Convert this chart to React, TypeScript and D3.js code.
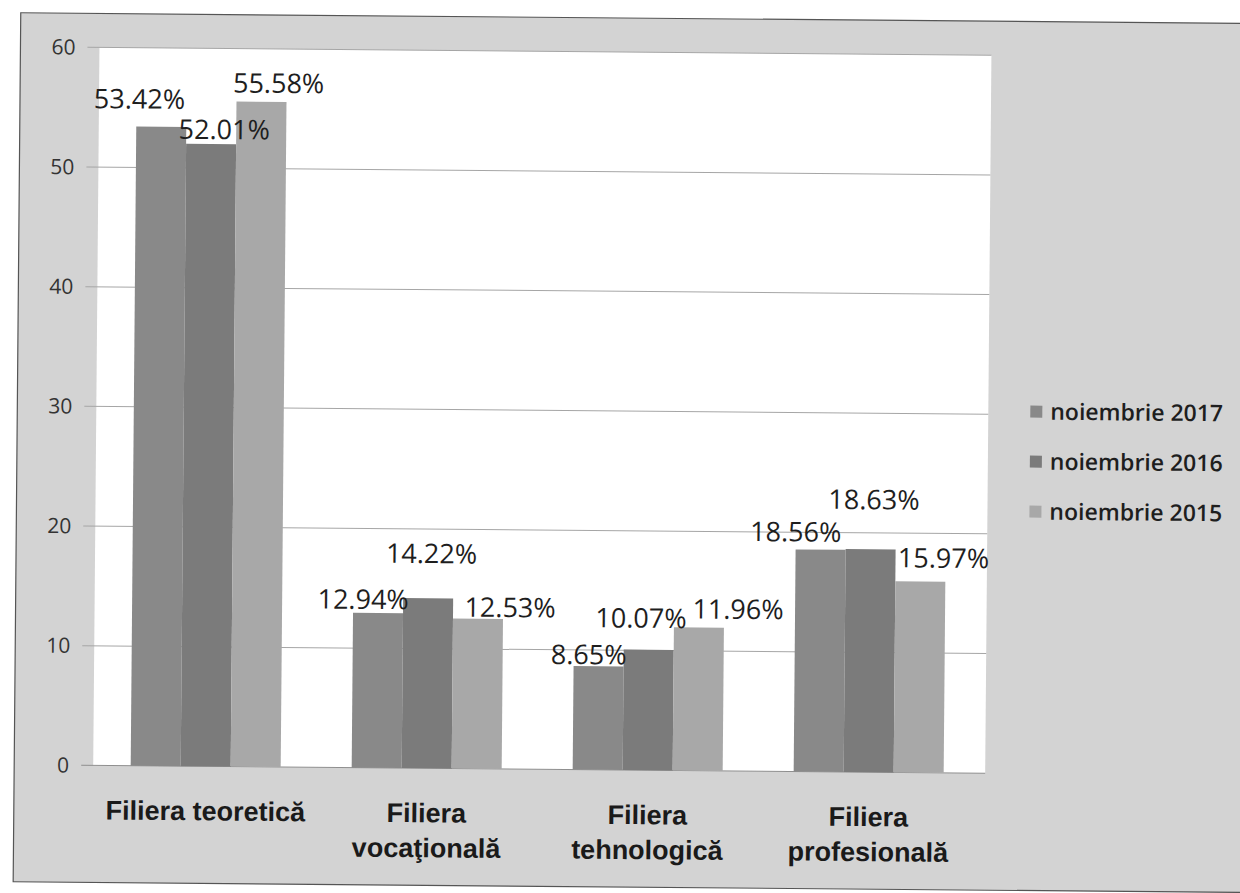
import React from 'react'
import * as d3 from 'd3'

// values
const categories = [
    ['Filiera teoretică'],
    ['Filiera', 'vocaţională'],
    ['Filiera', 'tehnologică'],
    ['Filiera', 'profesională'],
]
const seriesNames = ['noiembrie 2017', 'noiembrie 2016', 'noiembrie 2015']
const values2017 = [53.42, 12.94, 8.65, 18.56]
const values2016 = [52.01, 14.22, 10.07, 18.63]
const values2015 = [55.58, 12.53, 11.96, 15.97]
const yTicks = [0, 10, 20, 30, 40, 50, 60]

// the labels were dragged around by hand in the original: [dx, dy] from bar centre / top
const labelShift = [
    [[-22, -18], [13, -5], [17, -9]],
    [[-15, -4], [3, -35], [32, -2]],
    [[-10, -2], [-8, -22], [39, -9]],
    [[-25, -8], [3, -40], [23, -14]],
]

const colors = ['#898989', '#7b7b7b', '#a8a8a8']

const width = 1240
const height = 893
const plot = { left: 96, right: 988, top: 52, bottom: 770 }

export default function App() {
    const series = [values2017, values2016, values2015]

    const y = d3.scaleLinear().domain([0, 60]).range([plot.bottom, plot.top])
    const x0 = d3.scaleBand<number>()
        .domain(d3.range(categories.length))
        .range([98, 982])
        .padding(0)
    const groupW = 150
    const x1 = d3.scaleBand<number>()
        .domain(d3.range(series.length))
        .range([-groupW / 2, groupW / 2])

    const cx = (i: number) => (x0(i) as number) + x0.bandwidth() / 2

    return (
        <svg width={width} height={height}
            style={{ position: 'absolute', left: 0, top: 0, background: '#fff' }}>
            {/* scan is a little crooked */}
            <g transform="rotate(0.5 620 446)">
                <rect x={17} y={18} width={1240} height={869} fill="#d3d3d3" stroke="#555" strokeWidth={1.2} />
                <rect x={plot.left} y={plot.top} width={plot.right - plot.left} height={plot.bottom - plot.top} fill="#fff" />

                {yTicks.map(t => (
                    <g key={t}>
                        <line x1={84} x2={plot.right} y1={y(t)} y2={y(t)}
                            stroke={t === 0 ? '#8f8f8f' : '#a6a6a6'} strokeWidth={1} />
                        <text x={72} y={y(t)} dy="0.35em" textAnchor="end"
                            fontFamily="'Open Sans', sans-serif" fontSize={21} fill="#333">{t}</text>
                    </g>
                ))}

                {categories.map((c, i) => (
                    <g key={i}>
                        {series.map((vals, s) => {
                            const bx = cx(i) + (x1(s) as number)
                            const bw = x1.bandwidth()
                            return (
                                <rect key={s} x={bx} y={y(vals[i])} width={bw}
                                    height={y(0) - y(vals[i])} fill={colors[s]} />
                            )
                        })}
                        {series.map((vals, s) => {
                            const bx = cx(i) + (x1(s) as number) + x1.bandwidth() / 2
                            const [dx, dy] = labelShift[i][s]
                            return (
                                <text key={'l' + s} x={bx + dx} y={y(vals[i]) + dy} textAnchor="middle"
                                    fontFamily="'Open Sans', sans-serif" fontSize={27} fill="#1e1e1e">
                                    {vals[i].toFixed(2)}%
                                </text>
                            )
                        })}
                        {c.map((line, k) => (
                            <text key={'c' + k} x={cx(i)} y={824 + k * 35} textAnchor="middle"
                                fontFamily="'Liberation Sans', Arial, sans-serif" fontWeight="bold"
                                fontSize={27} fill="#1a1a1a">{line}</text>
                        ))}
                    </g>
                ))}

                {seriesNames.map((name, s) => {
                    const ly = 408 + s * 50
                    return (
                        <g key={name}>
                            <rect x={1030} y={ly - 6} width={12} height={12} fill={colors[s]} />
                            <text x={1050} y={ly} dy="0.35em"
                                fontFamily="'Open Sans', sans-serif" fontWeight={600}
                                fontSize={23} fill="#1e1e1e">{name}</text>
                        </g>
                    )
                })}
            </g>
        </svg>
    )
}
